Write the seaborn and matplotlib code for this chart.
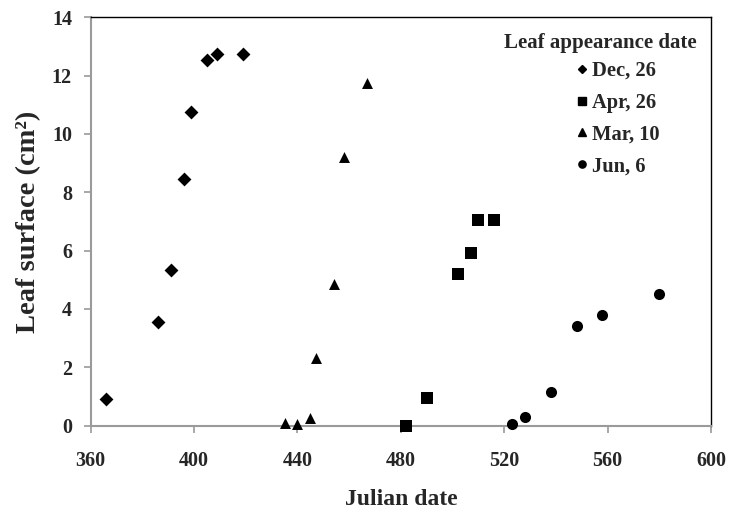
import matplotlib
matplotlib.use("Agg")
import matplotlib.pyplot as plt
from matplotlib.lines import Line2D
import seaborn as sns
import pandas as pd

# Leaf surface measurements per leaf cohort (Julian date, cm2)
dec26_day = [366, 386, 391, 396, 399, 405, 409, 419]
dec26_area = [0.9, 3.55, 5.35, 8.45, 10.75, 12.55, 12.75, 12.75]

apr26_day = [482, 490, 502, 507, 510, 516]
apr26_area = [0.0, 0.95, 5.2, 5.9, 7.05, 7.05]

mar10_day = [435, 440, 445, 447, 454, 458, 467]
mar10_area = [0.1, 0.05, 0.25, 2.3, 4.85, 9.2, 11.75]

jun6_day = [523, 528, 538, 548, 558, 580]
jun6_area = [0.05, 0.3, 1.15, 3.4, 3.8, 4.5]

cohorts = ["Dec, 26", "Apr, 26", "Mar, 10", "Jun, 6"]
x_ticks = [360, 400, 440, 480, 520, 560, 600]
y_ticks = [0, 2, 4, 6, 8, 10, 12, 14]

frames = []
for name, d, a in zip(cohorts,
                      [dec26_day, apr26_day, mar10_day, jun6_day],
                      [dec26_area, apr26_area, mar10_area, jun6_area]):
    frames.append(pd.DataFrame({"day": d, "area": a, "cohort": name}))
df = pd.concat(frames, ignore_index=True)

sns.set_theme(style="white")
plt.rcParams["font.family"] = ["Liberation Serif", "DejaVu Serif"]
plt.rcParams["font.weight"] = "bold"

fig = plt.figure(figsize=(7.30, 5.11), dpi=100)
ax = fig.add_axes([90.7 / 730, 1 - 425.5 / 511, (711 - 90.7) / 730, (425.5 - 17.3) / 511])

markers = {"Dec, 26": "D", "Apr, 26": "s", "Mar, 10": "^", "Jun, 6": "o"}
sizes = {"Dec, 26": 50, "Apr, 26": 64, "Mar, 10": 62, "Jun, 6": 64}
for name in cohorts:
    sub = df[df["cohort"] == name]
    sns.scatterplot(data=sub, x="day", y="area", marker=markers[name],
                    s=sizes[name], color="black", linewidth=0, ax=ax,
                    legend=False, clip_on=False, zorder=3)

ax.set_xlim(360, 600)
ax.set_ylim(0, 14)
ax.set_xticks(x_ticks)
ax.set_yticks(y_ticks)
ax.tick_params(axis="both", which="both", direction="out", length=5,
               width=1.2, color="#9a9a9a", labelsize=14.5,
               bottom=True, left=True)
ax.tick_params(axis="x", pad=13)
ax.tick_params(axis="y", pad=8.5)
for lab in ax.get_xticklabels() + ax.get_yticklabels():
    lab.set_fontweight("bold")

for side in ["left", "bottom"]:
    ax.spines[side].set_color("#9a9a9a")
    ax.spines[side].set_linewidth(1.5)
for side in ["top", "right"]:
    ax.spines[side].set_color("black")
    ax.spines[side].set_linewidth(1.0)

ax.set_xlabel("Julian date", fontsize=17, fontweight="bold", labelpad=13)
ax.set_ylabel("Leaf surface (cm²)", fontsize=20.5, fontweight="bold", labelpad=8)

# Legend: title as text, entries via handles
fig.text(600 / 730, 1 - 43 / 511, "Leaf appearance date", ha="center", va="center",
         fontsize=15, fontweight="bold")
handles = [
    Line2D([], [], marker="D", linestyle="", color="black", markersize=4.4),
    Line2D([], [], marker="s", linestyle="", color="black", markersize=6),
    Line2D([], [], marker="^", linestyle="", color="black", markersize=6),
    Line2D([], [], marker="o", linestyle="", color="black", markersize=5.2),
]
leg = ax.legend(handles, cohorts, loc="upper left",
                bbox_to_anchor=(577 / 730, 1 - 61 / 511), bbox_transform=fig.transFigure,
                frameon=False, borderpad=0, borderaxespad=0, handlelength=0.5,
                handletextpad=0.25, labelspacing=0.57,
                prop={"size": 14.8, "weight": "bold"})

fig.savefig("out.png", dpi=100)
